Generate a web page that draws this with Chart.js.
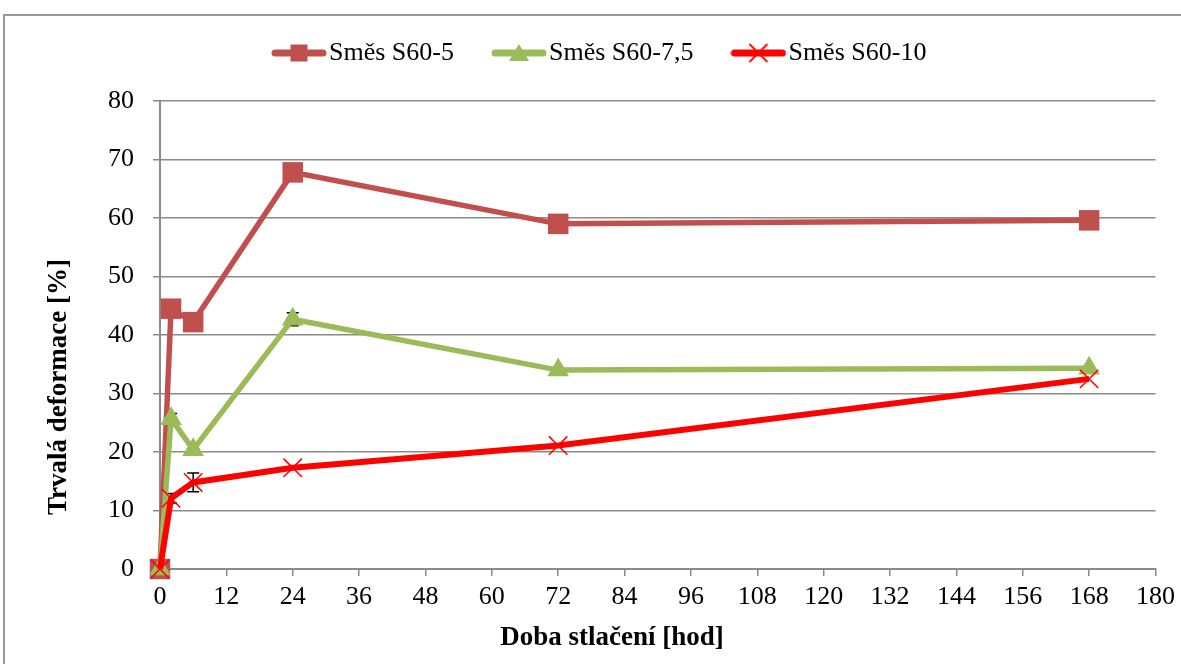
<!DOCTYPE html>
<html>
<head>
<meta charset="utf-8">
<script src="https://cdn.jsdelivr.net/npm/chart.js@4.4.0/dist/chart.umd.min.js"></script>
<style>
  body { margin: 0; background: #fff; }
  #frame { position: absolute; left: 3px; top: 14px; width: 1200px; height: 700px; border: 2px solid #9a9a9a; box-sizing: border-box; }
  #chart { position: absolute; left: 0; top: 0; }
</style>
</head>
<body>
<div id="frame"></div>
<canvas id="chart" width="1181" height="664"></canvas>
<script>
// time of compression [h]
const hours = [0, 2, 6, 24, 72, 168];

// permanent deformation [%]
const s5 = [0, 44.5, 42.2, 67.8, 59.0, 59.6];
const s75 = [0, 25.7, 20.4, 42.7, 34.0, 34.3];
const s10 = [0, 12.1, 14.8, 17.3, 21.1, 32.5];

// error bar half-lengths
const errS5 = [0, 0, 0, 0, 0, 0];
const errS75 = [0, 0.9, 0, 1.1, 0, 0];
const errS10 = [0, 0.8, 1.6, 0, 0, 0];

const seriesNames = ['Směs S60-5', 'Směs S60-7,5', 'Směs S60-10'];
const xTicks = [0, 12, 24, 36, 48, 60, 72, 84, 96, 108, 120, 132, 144, 156, 168, 180];
const yTicks = [0, 10, 20, 30, 40, 50, 60, 70, 80];

const xTitle = 'Doba stlačení [hod]';
const yTitle = 'Trvalá deformace [%]';

const FONT = "'Liberation Serif', 'Times New Roman', serif";
const gridColor = '#8a8a8a';

function toPoints(vals) {
  return hours.map((h, i) => ({ x: h, y: vals[i] }));
}

// small canvas with a line and the marker, used as legend symbol
function legendSymbol(color, style) {
  const c = document.createElement('canvas');
  c.width = 56;
  c.height = 22;
  const g = c.getContext('2d');
  g.strokeStyle = color;
  g.lineWidth = 7;
  g.lineCap = 'round';
  g.beginPath();
  g.moveTo(4, 11);
  g.lineTo(52, 11);
  g.stroke();
  g.fillStyle = color;
  if (style === 'rect') {
    g.fillRect(19.5, 2.5, 17, 17);
  } else if (style === 'triangle') {
    g.beginPath();
    g.moveTo(28, 2);
    g.lineTo(38, 19);
    g.lineTo(18, 19);
    g.closePath();
    g.fill();
  } else {
    g.lineWidth = 1.8;
    g.lineCap = 'butt';
    g.beginPath();
    g.moveTo(19, 2); g.lineTo(37, 20);
    g.moveTo(37, 2); g.lineTo(19, 20);
    g.stroke();
  }
  return c;
}

const symbols = [
  legendSymbol('#C0504D', 'rect'),
  legendSymbol('#9BBB59', 'triangle'),
  legendSymbol('#FF0000', 'cross')
];

// move the legend to where it sits in the original
const legendPlace = {
  id: 'legendPlace',
  afterLayout(chart) {
    const lg = chart.legend;
    if (!lg) return;
    const w = lg.right - lg.left;
    const h = lg.bottom - lg.top;
    lg.left = 234;
    lg.right = 234 + w;
    lg.top = -8;
    lg.bottom = -8 + h;
  }
};

// axis titles, placed like in the original
const axisTitles = {
  id: 'axisTitles',
  afterDraw(chart) {
    const ctx = chart.ctx;
    const area = chart.chartArea;
    ctx.save();
    ctx.fillStyle = '#000';
    ctx.font = 'bold 27px ' + FONT;
    ctx.textAlign = 'center';
    ctx.textBaseline = 'middle';
    ctx.fillText(xTitle, area.left + 452, 638);
    ctx.translate(59, area.top + 286);
    ctx.rotate(-Math.PI / 2);
    ctx.fillText(yTitle, 0, 0);
    ctx.restore();
  }
};

// simple black error bars, under the series
const errorBars = {
  id: 'errorBars',
  beforeDatasetsDraw(chart) {
    const ctx = chart.ctx;
    const xs = chart.scales.x;
    const ys = chart.scales.y;
    const errs = [errS5, errS75, errS10];
    const vals = [s5, s75, s10];
    ctx.save();
    ctx.strokeStyle = '#000';
    ctx.lineWidth = 1.5;
    errs.forEach((err, d) => {
      err.forEach((e, i) => {
        if (!e) return;
        const px = xs.getPixelForValue(hours[i]);
        const top = ys.getPixelForValue(vals[d][i] + e);
        const bot = ys.getPixelForValue(vals[d][i] - e);
        ctx.beginPath();
        ctx.moveTo(px, top); ctx.lineTo(px, bot);
        ctx.moveTo(px - 6, top); ctx.lineTo(px + 6, top);
        ctx.moveTo(px - 6, bot); ctx.lineTo(px + 6, bot);
        ctx.stroke();
      });
    });
    ctx.restore();
  }
};

const ctx = document.getElementById('chart').getContext('2d');
const chart = new Chart(ctx, {
  type: 'line',
  data: {
    datasets: [
      {
        label: seriesNames[0],
        data: toPoints(s5),
        borderColor: '#C0504D',
        backgroundColor: '#C0504D',
        borderWidth: 5.5,
        pointStyle: 'rect',
        pointRadius: 14.5,
        pointBorderWidth: 0,
        order: 3,
        clip: false
      },
      {
        label: seriesNames[1],
        data: toPoints(s75),
        borderColor: '#9BBB59',
        backgroundColor: '#9BBB59',
        borderWidth: 5.5,
        pointStyle: 'triangle',
        pointRadius: 12.5,
        pointBorderWidth: 0,
        order: 2,
        clip: false
      },
      {
        label: seriesNames[2],
        data: toPoints(s10),
        borderColor: '#FF0000',
        backgroundColor: '#FF0000',
        borderWidth: 6,
        pointStyle: 'crossRot',
        pointRadius: 13,
        pointBorderWidth: 1.5,
        order: 1,
        clip: false
      }
    ]
  },
  options: {
    responsive: false,
    animation: false,
    layout: {
      padding: { top: 17, right: 24, bottom: 0, left: 0 }
    },
    elements: {
      line: { tension: 0 }
    },
    plugins: {
      tooltip: { enabled: false },
      legend: {
        display: true,
        position: 'top',
        align: 'start',
        labels: {
          usePointStyle: true,
          pointStyleWidth: 34,
          padding: 48,
          color: '#000',
          font: { family: FONT, size: 26 },
          generateLabels(chart) {
            return chart.data.datasets.map((ds, i) => ({
              text: ds.label,
              pointStyle: symbols[i],
              datasetIndex: i,
              hidden: false,
              fontColor: '#000',
              lineWidth: 0
            }));
          }
        }
      }
    },
    scales: {
      x: {
        type: 'linear',
        min: 0,
        max: 180,
        afterBuildTicks(scale) {
          scale.ticks = xTicks.map(v => ({ value: v }));
        },
        ticks: {
          color: '#000',
          font: { family: FONT, size: 26 },
          padding: 6,
          maxRotation: 0
        },
        grid: {
          drawOnChartArea: false,
          drawTicks: true,
          tickLength: 7,
          color: gridColor,
          lineWidth: 1.5
        },
        border: { color: gridColor, width: 2 },
        afterFit(scale) { scale.height = 95; }
      },
      y: {
        min: 0,
        max: 80,
        afterBuildTicks(scale) {
          scale.ticks = yTicks.map(v => ({ value: v }));
        },
        ticks: {
          color: '#000',
          font: { family: FONT, size: 26 },
          padding: 19
        },
        grid: {
          color: gridColor,
          lineWidth: 1.5,
          drawTicks: true,
          tickLength: 7
        },
        border: { color: gridColor, width: 2 },
        afterFit(scale) { scale.width = 160; }
      }
    }
  },
  plugins: [legendPlace, axisTitles, errorBars]
});
</script>
</body>
</html>
